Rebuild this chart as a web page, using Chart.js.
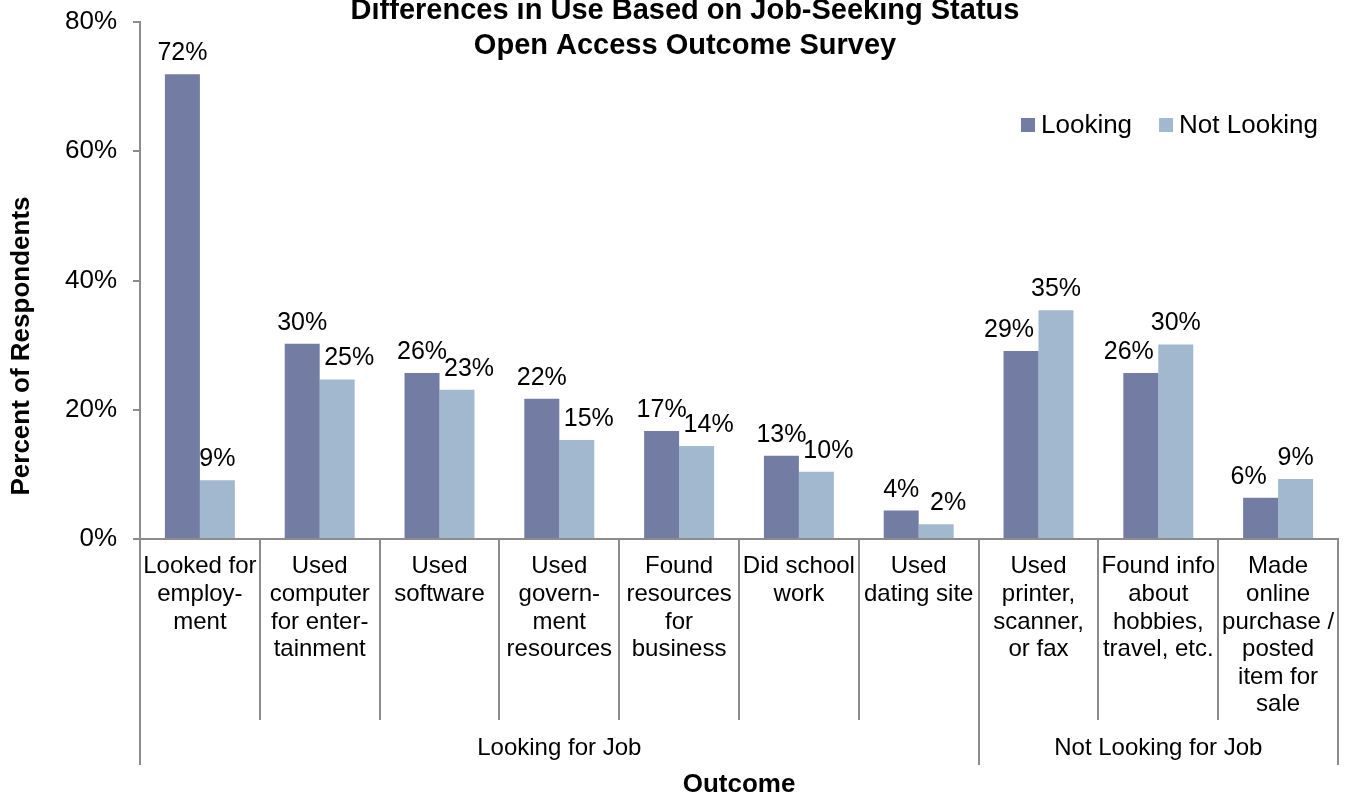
<!DOCTYPE html>
<html>
<head>
<meta charset="utf-8">
<title>Differences in Use Based on Job-Seeking Status</title>
<script src="https://cdn.jsdelivr.net/npm/chart.js@4.4.1/dist/chart.umd.min.js"></script>
<style>
    html, body { margin: 0; padding: 0; background: #fff; }
    #wrap { width: 1345px; height: 794px; position: relative; }
</style>
</head>
<body>
<div id="wrap"><canvas id="useChart"></canvas></div>
<script>
// categories (multi-line, as in the original)
const outcomes = [
    ['Looked for', 'employ-', 'ment'],
    ['Used', 'computer', 'for enter-', 'tainment'],
    ['Used', 'software'],
    ['Used', 'govern-', 'ment', 'resources'],
    ['Found', 'resources', 'for', 'business'],
    ['Did school', 'work'],
    ['Used', 'dating site'],
    ['Used', 'printer,', 'scanner,', 'or fax'],
    ['Found info', 'about', 'hobbies,', 'travel, etc.'],
    ['Made', 'online', 'purchase /', 'posted', 'item for', 'sale']
];
const groupLabels = ['Looking for Job', 'Not Looking for Job'];
const groupSizes = [7, 3];

// percent of respondents
const looking = [71.9, 30.2, 25.7, 21.7, 16.7, 12.9, 4.4, 29.1, 25.7, 6.4];
const notLooking = [9.1, 24.7, 23.1, 15.3, 14.4, 10.4, 2.3, 35.4, 30.1, 9.3];

const yTicks = [0, 20, 40, 60, 80];

const FONT = "'Liberation Sans', Arial, sans-serif";
const GRAY = '#8c8c8c';

Chart.defaults.font.family = FONT;
Chart.defaults.color = '#000';

// title, y title, legend, value labels, category group lines
const decorPlugin = {
    id: 'decor',
    afterDatasetsDraw(chart) {
        const ctx = chart.ctx;
        const metaL = chart.getDatasetMeta(0).data;
        const metaN = chart.getDatasetMeta(1).data;
        ctx.save();
        ctx.fillStyle = '#000';
        ctx.font = '25px ' + FONT;
        ctx.textAlign = 'center';
        ctx.textBaseline = 'alphabetic';
        metaL.forEach((barL, j) => {
            const barN = metaN[j];
            let xL = barL.x, xN = barN.x;
            // nudge the shorter bar's label outward when the two labels sit close
            if (Math.abs(barL.y - barN.y) < 45) {
                if (notLooking[j] < looking[j]) xN += 12; else xL -= 12;
            }
            ctx.fillText(Math.round(looking[j]) + '%', xL, barL.y - 14);
            ctx.fillText(Math.round(notLooking[j]) + '%', xN, barN.y - 14);
        });
        ctx.restore();
    },
    afterDraw(chart) {
        const ctx = chart.ctx;
        const area = chart.chartArea;
        const n = outcomes.length;
        const step = (area.right - area.left) / n;
        ctx.save();

        // separators under the x axis
        ctx.strokeStyle = GRAY;
        ctx.lineWidth = 2;
        const outer = [0];
        groupSizes.reduce((acc, s) => { outer.push(acc + s); return acc + s; }, 0);
        for (let i = 0; i <= n; i++) {
            const x = Math.round(area.left + i * step);
            const len = outer.includes(i) ? 226 : 181;
            ctx.beginPath();
            ctx.moveTo(x, area.bottom);
            ctx.lineTo(x, area.bottom + len);
            ctx.stroke();
        }

        // group labels
        ctx.fillStyle = '#000';
        ctx.font = '24px ' + FONT;
        ctx.textAlign = 'center';
        ctx.textBaseline = 'middle';
        groupLabels.forEach((g, k) => {
            const x0 = area.left + outer[k] * step;
            const x1 = area.left + outer[k + 1] * step;
            ctx.fillText(g, (x0 + x1) / 2, area.bottom + 209);
        });

        // chart title
        ctx.font = 'bold 29px ' + FONT;
        ctx.textBaseline = 'alphabetic';
        ctx.fillText('Differences in Use Based on Job-Seeking Status', 685, 19);
        ctx.fillText('Open Access Outcome Survey', 685, 54);

        // y axis title
        ctx.save();
        ctx.translate(22, area.bottom - 193);
        ctx.rotate(-Math.PI / 2);
        ctx.font = 'bold 26px ' + FONT;
        ctx.textBaseline = 'middle';
        ctx.fillText('Percent of Respondents', 0, 0);
        ctx.restore();

        // legend
        ctx.font = '26px ' + FONT;
        ctx.textAlign = 'left';
        ctx.textBaseline = 'middle';
        let lx = 1021;
        const ly = 125;
        chart.data.datasets.forEach(ds => {
            ctx.fillStyle = ds.backgroundColor;
            ctx.fillRect(lx, ly - 7, 14, 14);
            ctx.fillStyle = '#000';
            ctx.fillText(ds.label, lx + 20, ly + 1);
            lx += 20 + ctx.measureText(ds.label).width + 27;
        });
        ctx.restore();
    }
};

new Chart(document.getElementById('useChart'), {
    type: 'bar',
    data: {
        labels: outcomes,
        datasets: [
            {
                label: 'Looking',
                data: looking,
                backgroundColor: '#737DA3',
                borderWidth: 0
            },
            {
                label: 'Not Looking',
                data: notLooking,
                backgroundColor: '#A2B8CF',
                borderWidth: 0
            }
        ]
    },
    options: {
        responsive: true,
        maintainAspectRatio: false,
        animation: false,
        categoryPercentage: 0.584,
        barPercentage: 1.0,
        layout: { padding: { top: 22, right: 7, bottom: 0, left: 0 } },
        plugins: {
            legend: { display: false },
            tooltip: { enabled: false },
            title: { display: false }
        },
        scales: {
            x: {
                grid: { display: false, drawTicks: false },
                border: { display: true, color: GRAY, width: 2 },
                ticks: {
                    autoSkip: false,
                    maxRotation: 0,
                    minRotation: 0,
                    padding: 14,
                    font: { size: 24, lineHeight: 1.15 }
                },
                title: {
                    display: true,
                    text: 'Outcome',
                    padding: 0,
                    font: { size: 26, weight: 'bold', lineHeight: 0.7 }
                },
                afterFit(scale) {
                    scale.height = 255;
                    scale.paddingLeft = 0;
                    scale.paddingRight = 0;
                }
            },
            y: {
                min: 0,
                max: 80,
                afterBuildTicks(scale) { scale.ticks = yTicks.map(v => ({ value: v })); },
                grid: {
                    drawOnChartArea: false,
                    drawTicks: true,
                    tickLength: 7,
                    color: GRAY,
                    lineWidth: 2
                },
                border: { display: true, color: GRAY, width: 2 },
                ticks: {
                    padding: 16,
                    font: { size: 26 },
                    callback: v => v + '%'
                },
                afterFit(scale) {
                    scale.width = 140;
                    scale.paddingTop = 0;
                    scale.paddingBottom = 0;
                }
            }
        }
    },
    plugins: [decorPlugin]
});
</script>
</body>
</html>
